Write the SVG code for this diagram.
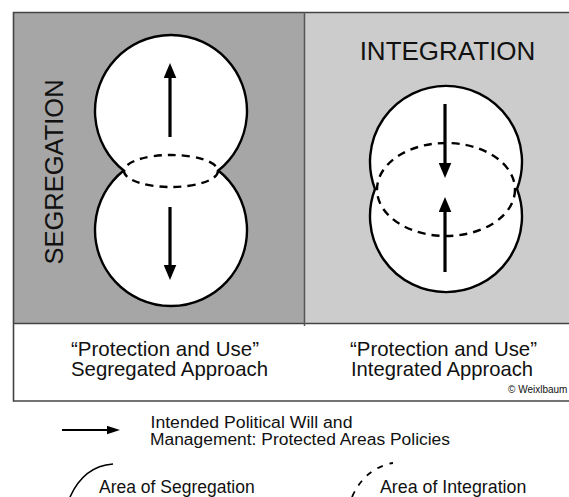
<svg xmlns="http://www.w3.org/2000/svg" width="569" height="497" viewBox="0 0 569 497">
<style>
text{font-family:"Liberation Sans",Arial,sans-serif;fill:#111}
.frame{fill:none;stroke:#444;stroke-width:1.6}
.area{fill:#fff;stroke:#000;stroke-width:2.4}
.dash{fill:none;stroke:#000;stroke-width:2.4;stroke-dasharray:8 6}
.arr{stroke:#000;stroke-width:3.2;marker-end:url(#head)}
.larr{stroke:#000;stroke-width:2;marker-end:url(#lhead)}
.cap{font-size:19.8px}
.leg{font-size:16px}
</style>
<defs>
<marker id="head" markerUnits="userSpaceOnUse" markerWidth="15" markerHeight="13" refX="2" refY="6.3" orient="auto" viewBox="0 0 15 12.6"><path d="M0,0 L15,6.3 L0,12.6 Z" fill="#000"/></marker>
<marker id="lhead" markerUnits="userSpaceOnUse" markerWidth="13" markerHeight="9" refX="2" refY="4.2" orient="auto" viewBox="0 0 13 8.4"><path d="M0,0 L13,4.2 L0,8.4 Z" fill="#000"/></marker>
</defs>
<rect x="0" y="0" width="569" height="497" fill="#fff"/>
<g id="panel-segregation">
<rect x="13" y="12" width="292" height="311" fill="#a6a6a6"/>
<path class="area" d="M123.7,170.5 A76,76 0 1 1 218.3,170.5 A76,76 0 1 1 123.7,170.5 Z"/>
<ellipse class="dash" cx="171" cy="171" rx="47" ry="16"/>
<text transform="translate(63,172) rotate(-90)" text-anchor="middle" font-size="25.5">SEGREGATION</text>
</g>
<g id="panel-integration">
<rect x="305" y="12" width="264" height="311" fill="#cccccc"/>
<path class="area" d="M375,189 A76,76 0 1 1 517,189 A76,76 0 1 1 375,189 Z"/>
<ellipse class="dash" cx="446" cy="189.5" rx="69" ry="46.5"/>
<text x="447.5" y="60" text-anchor="middle" font-size="26">INTEGRATION</text>
</g>
<g id="frame">
<line class="frame" x1="13" y1="12.5" x2="569" y2="12.5"/>
<line class="frame" x1="13.5" y1="12" x2="13.5" y2="401.5"/>
<line class="frame" x1="13" y1="323.5" x2="569" y2="323.5"/>
<line class="frame" x1="13" y1="401" x2="569" y2="401"/>
<line x1="304.5" y1="12" x2="304.5" y2="326" stroke="#555" stroke-width="1.5"/>
</g>
<g id="connectors">
<line class="arr" x1="170" y1="137" x2="170" y2="76"/>
<line class="arr" x1="170" y1="207" x2="170" y2="267"/>
<line class="arr" x1="445" y1="104" x2="445" y2="165"/>
<line class="arr" x1="445" y1="272" x2="445" y2="210"/>
</g>
<g id="captions">
<text class="cap" x="71" y="356" textLength="188" lengthAdjust="spacingAndGlyphs">“Protection and Use”</text>
<text class="cap" x="71" y="376" textLength="197" lengthAdjust="spacingAndGlyphs">Segregated Approach</text>
<text class="cap" x="350" y="356" textLength="187" lengthAdjust="spacingAndGlyphs">“Protection and Use”</text>
<text class="cap" x="351" y="376" textLength="182" lengthAdjust="spacingAndGlyphs">Integrated Approach</text>
<text x="508" y="393" font-size="10">© Weixlbaum</text>
</g>
<g id="legend">
<line class="larr" x1="62" y1="430" x2="109" y2="430"/>
<text class="leg" x="150.5" y="428" textLength="202" lengthAdjust="spacingAndGlyphs">Intended Political Will and</text>
<text class="leg" x="150" y="445" textLength="300" lengthAdjust="spacingAndGlyphs">Management: Protected Areas Policies</text>
<path d="M70,497 Q84,466 113,464" fill="none" stroke="#000" stroke-width="1.6"/>
<text x="99" y="493.3" font-size="17.5">Area of Segregation</text>
<path d="M352,497 Q365,468 393,463" fill="none" stroke="#000" stroke-width="1.8" stroke-dasharray="6 7"/>
<text x="380" y="493" font-size="17.8">Area of Integration</text>
</g>
</svg>
